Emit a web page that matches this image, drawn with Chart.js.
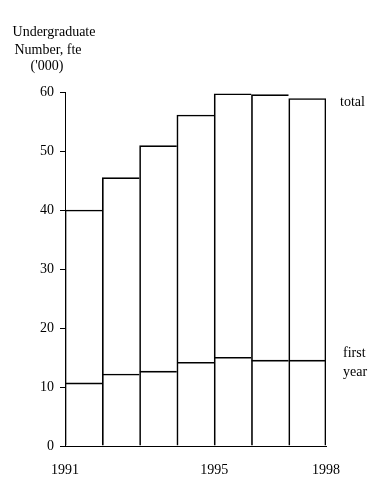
<!DOCTYPE html>
<html>
<head>
<meta charset="utf-8">
<script src="https://cdn.jsdelivr.net/npm/chart.js@4/dist/chart.umd.min.js"></script>
<style>
  html, body { margin: 0; padding: 0; background: #fff; }
  #wrap { width: 390px; height: 490px; position: relative; }
</style>
</head>
<body>
<div id="wrap"><canvas id="chart" width="390" height="490"></canvas></div>
<script>
// one bar per year interval, 1991-1998
const periods = ['1991-92', '1992-93', '1993-94', '1994-95', '1995-96', '1996-97', '1997-98'];
const totalFte = [40.0, 45.5, 50.9, 56.1, 59.7, 59.55, 58.9];
const firstYearFte = [10.7, 12.2, 12.7, 14.2, 15.05, 14.55, 14.55];
const yearTicks = [1991, 1995, 1998];
const yTicks = [0, 10, 20, 30, 40, 50, 60];
const yTitle = ['Undergraduate', 'Number, fte', "('000)"];

const FONT = 'Liberation Serif, Times New Roman, serif';
Chart.defaults.font.family = FONT;
Chart.defaults.font.size = 14;
Chart.defaults.color = '#000';

const lastIdx = periods.length - 1;
const outline = ctx => ({ top: 1, left: 1, right: ctx.dataIndex === lastIdx ? 1 : 0, bottom: 0 });

const labelsPlugin = {
    id: 'labels',
    afterDraw(chart) {
        const ctx = chart.ctx, y = chart.scales.y, area = chart.chartArea;
        ctx.save();
        ctx.fillStyle = '#000';
        ctx.font = '14px ' + FONT;
        ctx.textBaseline = 'middle';
        ctx.textAlign = 'center';
        ctx.fillText(yTitle[0], 54, 32);
        ctx.fillText(yTitle[1], 48, 50);
        ctx.fillText(yTitle[2], 47, 66);
        ctx.textAlign = 'left';
        const tx = area.right + 14;
        ctx.fillText('total', tx, y.getPixelForValue(totalFte[lastIdx]) + 4);
        const fy = y.getPixelForValue(firstYearFte[lastIdx]);
        ctx.fillText('first', tx + 3, fy - 7);
        ctx.fillText('year', tx + 3, fy + 12);
        ctx.restore();
    }
};

new Chart(document.getElementById('chart'), {
    type: 'bar',
    data: {
        labels: periods,
        datasets: [
            { label: 'first year', data: firstYearFte, grouped: false, backgroundColor: 'rgba(0,0,0,0)', borderColor: '#000',
              borderWidth: { top: 1, left: 0, right: 0, bottom: 0 }, barPercentage: 1, categoryPercentage: 1 },
            { label: 'total', data: totalFte, grouped: false, backgroundColor: 'rgba(0,0,0,0)', borderColor: '#000',
              borderWidth: outline, barPercentage: 1, categoryPercentage: 1 }
        ]
    },
    options: {
        responsive: false,
        animation: false,
        layout: { padding: { left: 0, top: 92, right: 64, bottom: 0 } },
        plugins: { legend: { display: false }, tooltip: { enabled: false } },
        scales: {
            x: { display: false },
            years: {
                type: 'linear', position: 'bottom', min: 1991, max: 1998, offset: false,
                afterBuildTicks: s => { s.ticks = yearTicks.map(v => ({ value: v })); },
                afterFit: s => { s.height = 44; },
                grid: { display: false, drawTicks: false, offset: false },
                border: { display: true, color: '#000', width: 1 },
                ticks: { padding: 16, maxRotation: 0, callback: v => String(v) }
            },
            y: {
                min: 0, max: 60,
                afterBuildTicks: s => { s.ticks = yTicks.map(v => ({ value: v })); },
                afterFit: s => { s.width = 65; },
                grid: { drawOnChartArea: false, color: '#000', lineWidth: 1, tickLength: 5 },
                border: { display: true, color: '#000', width: 1 },
                ticks: { padding: 6 }
            }
        }
    },
    plugins: [labelsPlugin]
});
</script>
</body>
</html>
